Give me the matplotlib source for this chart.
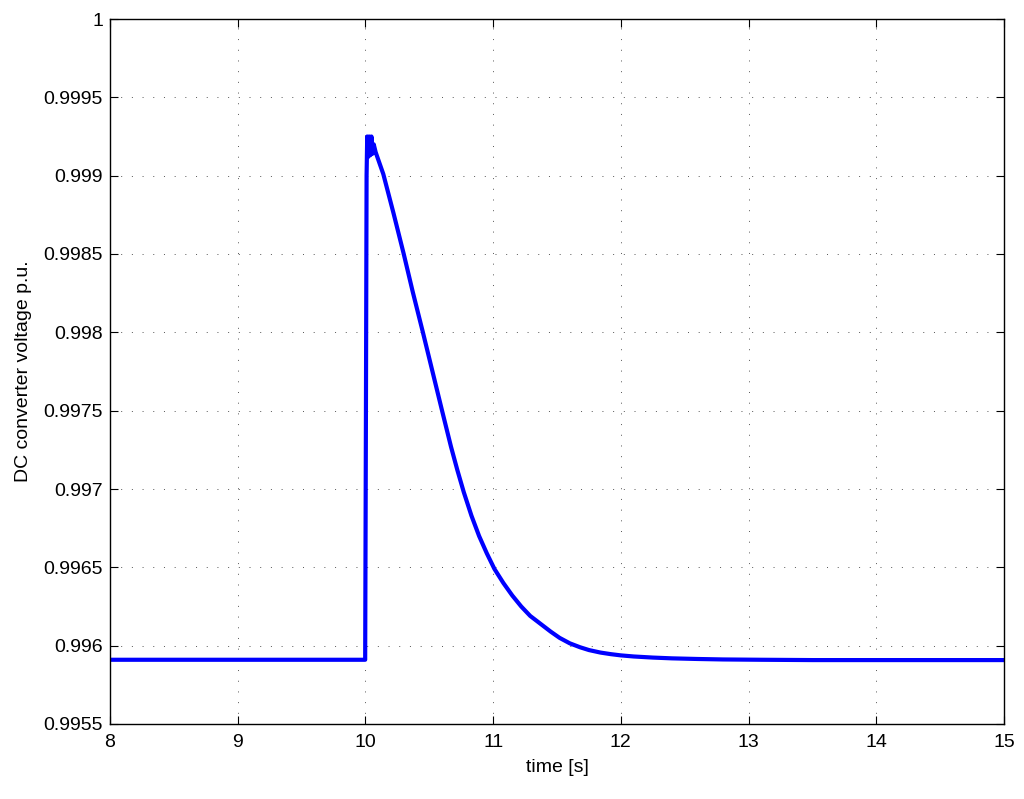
import matplotlib
matplotlib.use("Agg")
import matplotlib.pyplot as plt

# DC converter voltage after step at t = 10 s
time_s = [8.0, 9.0, 9.998, 10.004, 10.009, 10.014, 10.022, 10.03, 10.038, 10.047, 10.055,
          10.065, 10.08, 10.14, 10.22, 10.30, 10.37, 10.45, 10.525, 10.60, 10.67,
          10.72, 10.77, 10.83, 10.89, 10.95, 11.01, 11.08, 11.15, 11.22, 11.29,
          11.37, 11.45, 11.52, 11.60, 11.68, 11.75, 11.84, 11.92, 12.0, 12.1,
          12.25, 12.4, 12.6, 12.8, 13.1, 13.5, 15.0]
voltage_pu = [0.99591, 0.99591, 0.99591, 0.99750, 0.99900, 0.99925, 0.99912, 0.99925,
              0.99913, 0.99925, 0.99914, 0.99920, 0.99915, 0.99901, 0.99876, 0.99850,
              0.99826, 0.99800, 0.99775, 0.99750, 0.99727, 0.99712, 0.99698, 0.99683,
              0.99670, 0.99659, 0.99649, 0.99640, 0.99632, 0.99625, 0.99619,
              0.99614, 0.99609, 0.99605, 0.996015, 0.995990, 0.995972, 0.995956,
              0.995946, 0.995938, 0.995931, 0.995924, 0.995919, 0.995915, 0.995912,
              0.995910, 0.995908, 0.995908]

plt.rcParams['font.family'] = ['Liberation Sans', 'DejaVu Sans']

fig = plt.figure(figsize=(10.24, 7.99), dpi=100)
ax = fig.add_axes([110 / 1024, 1 - 724 / 799, 894 / 1024, 705 / 799])

ax.plot(time_s, voltage_pu, color='#0000ff', linewidth=3, solid_joinstyle='round')

ax.set_xlim(8, 15)
ax.set_ylim(0.9955, 1.0)
ax.set_xticks(range(8, 16))
yt = [0.9955, 0.996, 0.9965, 0.997, 0.9975, 0.998, 0.9985, 0.999, 0.9995, 1.0]
ax.set_yticks(yt)
ax.set_yticklabels(['0.9955', '0.996', '0.9965', '0.997', '0.9975', '0.998',
                    '0.9985', '0.999', '0.9995', '1'])
ax.grid(True, color='#555555', linestyle=(0, (1, 10)), linewidth=0.7)
ax.tick_params(direction='in', top=True, right=True, labelsize=14, length=6, width=0.8)
ax.tick_params(axis='x', pad=7)
ax.tick_params(axis='y', pad=5)
for s in ax.spines.values():
    s.set_linewidth(1.0)

ax.set_xlabel('time [s]', fontsize=14, labelpad=6)
ax.set_ylabel('DC converter voltage p.u.', fontsize=14, labelpad=8)

fig.savefig('out.png', dpi=100)
